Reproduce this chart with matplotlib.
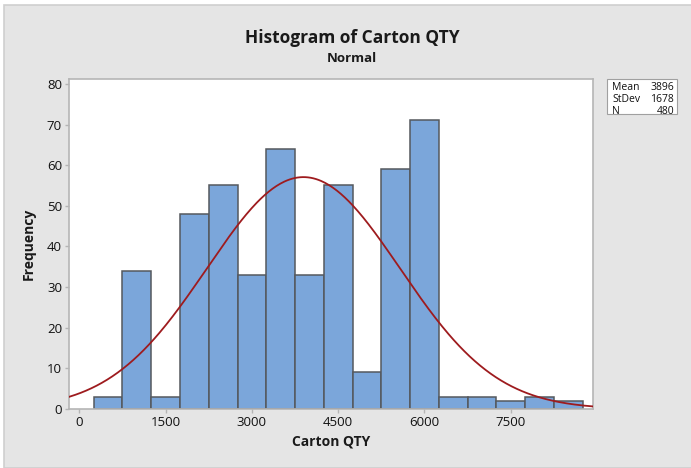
import numpy as np
import matplotlib
matplotlib.use("Agg")
import matplotlib.pyplot as plt
from matplotlib.patches import Rectangle

# Data
bin_centers = [500, 1000, 1500, 2000, 2500, 3000, 3500, 4000, 4500,
               5000, 5500, 6000, 6500, 7000, 7500, 8000, 8500]
counts = [3, 34, 3, 48, 55, 33, 64, 33, 55, 9, 59, 71, 3, 3, 2, 3, 2]
bin_width = 500
mean_val = 3896
std_val = 1678
n_val = 480
x_ticks = [0, 1500, 3000, 4500, 6000, 7500]
y_ticks = [0, 10, 20, 30, 40, 50, 60, 70, 80]

plt.rcParams['font.family'] = ['Open Sans', 'DejaVu Sans']

W, H = 691, 468
fig = plt.figure(figsize=(W / 100, H / 100), dpi=100)
fig.patch.set_facecolor('white')

# grey graph region with frame
bg = Rectangle((4 / W, 0), 1 - 4 / W + 0.01, 1 - 5 / H, transform=fig.transFigure,
               facecolor='#e5e5e5', edgecolor='#cfcfcf', linewidth=1.2, zorder=-10)
fig.patches.append(bg)

ax_l, ax_r, ax_t, ax_b = 69, 593, 79, 409
ax = fig.add_axes([ax_l / W, 1 - ax_b / H, (ax_r - ax_l) / W, (ax_b - ax_t) / H])
ax.set_zorder(1)
ax.set_facecolor('white')

ax.bar(bin_centers, counts, width=bin_width, color='#7ba6da',
       edgecolor='#55595e', linewidth=1.1, zorder=2)

xlim = (-180, 8930)
xs = np.linspace(xlim[0], xlim[1], 400)
pdf = n_val * bin_width / (std_val * np.sqrt(2 * np.pi)) * np.exp(-0.5 * ((xs - mean_val) / std_val) ** 2)
ax.plot(xs, pdf, color='#9e1b1e', linewidth=1.3, zorder=3)

ax.set_xlim(*xlim)
ax.set_ylim(0, 81.2)
ax.set_xticks(x_ticks)
ax.set_yticks(y_ticks)
for s in ax.spines.values():
    s.set_color('#b5b5b5')
    s.set_linewidth(1.2)
ax.tick_params(axis='both', colors='#b5b5b5', labelcolor='#111111',
               length=3, width=1, labelsize=9.5, pad=2)

ax.set_xlabel('Carton QTY', fontsize=10, fontweight='bold', color='#1a1a1a', labelpad=4)
ax.set_ylabel('Frequency', fontsize=10, fontweight='bold', color='#1a1a1a', labelpad=8)

fig.text(352 / W, 1 - 38 / H, 'Histogram of Carton QTY', ha='center', va='center',
         fontsize=12.5, fontweight='bold', color='#1a1a1a')
fig.text(352 / W, 1 - 58 / H, 'Normal', ha='center', va='center',
         fontsize=9.5, fontweight='bold', color='#1a1a1a')

# stats legend box
lb = Rectangle((607 / W, 1 - 114 / H), 70 / W, 35 / H, transform=fig.transFigure,
               facecolor='white', edgecolor='#a0a0a0', linewidth=0.8, zorder=1)
fig.patches.append(lb)
labels = ['Mean', 'StDev', 'N']
vals = [str(mean_val), str(std_val), str(n_val)]
for i, (lab, v) in enumerate(zip(labels, vals)):
    yy = 1 - (88 + i * 11.5) / H
    fig.text(612 / W, yy, lab, ha='left', va='center', fontsize=7.5, color='#111111')
    fig.text(674 / W, yy, v, ha='right', va='center', fontsize=7.5, color='#111111')

fig.savefig('out.png', dpi=100, facecolor=fig.get_facecolor())
